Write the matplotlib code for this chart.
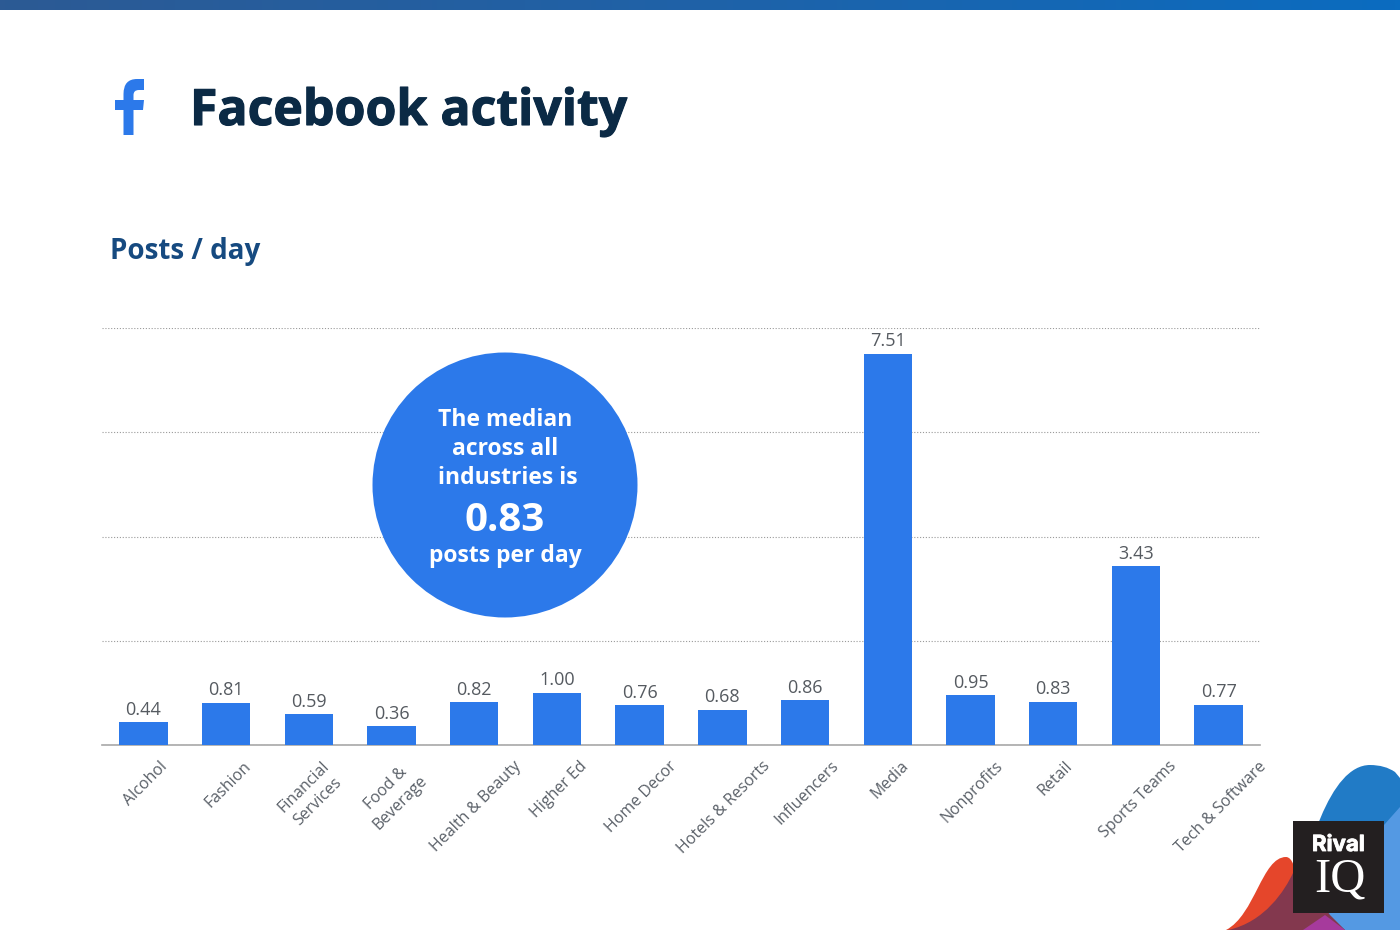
import numpy as np
import matplotlib
matplotlib.use('Agg')
import matplotlib.pyplot as plt
import matplotlib.patheffects as pe
from matplotlib.colors import LinearSegmentedColormap
from matplotlib.patches import Circle, PathPatch, Rectangle
from matplotlib.path import Path
from matplotlib.transforms import ScaledTranslation

plt.rcParams['font.family'] = ['Open Sans', 'DejaVu Sans']

categories = ['Alcohol', 'Fashion', 'Financial\nServices', 'Food &\nBeverage',
              'Health & Beauty', 'Higher Ed', 'Home Decor', 'Hotels & Resorts',
              'Influencers', 'Media', 'Nonprofits', 'Retail', 'Sports Teams',
              'Tech & Software']
posts_per_day = [0.44, 0.81, 0.59, 0.36, 0.82, 1.00, 0.76, 0.68, 0.86, 7.51,
                 0.95, 0.83, 3.43, 0.77]
y_ticks = [0, 2, 4, 6, 8]

BLUE = '#2c79ea'
W, H = 1400, 930
M, L, C3, C4, Z = Path.MOVETO, Path.LINETO, Path.CURVE3, Path.CURVE4, Path.CLOSEPOLY

fig = plt.figure(figsize=(14, 9.3), dpi=100, facecolor='white')

# page layer, in pixels from the top left
bg = fig.add_axes([0, 0, 1, 1], zorder=0)
bg.axis('off')

# top band
band = LinearSegmentedColormap.from_list('band', ['#2c5a94', '#1f62a8', '#0b6cc0'])
bg.imshow(np.linspace(0, 1, 256).reshape(1, -1), cmap=band, aspect='auto',
          extent=(0, W, 10.5, 0), zorder=1)
bg.set_xlim(0, W)
bg.set_ylim(H, 0)

# facebook f
f_verts = [(123.5, 135), (123.5, 110), (115, 110), (115, 100), (123.5, 100), (123.5, 94),
           (123.5, 79), (137, 79), (144, 79), (144, 90), (139, 90),
           (133.5, 90), (133.5, 95), (133.5, 100), (144, 100), (143, 110),
           (133.5, 110), (133.5, 135), (123.5, 135)]
f_codes = [M, L, L, L, L, L, C3, C3, L, L, L, C3, C3, L, L, L, L, L, Z]
bg.add_patch(PathPatch(Path(f_verts, f_codes), fc=BLUE, ec='none', zorder=2))

bg.text(190, 112, 'Facebook activity', fontsize=36, fontweight='bold',
        color='#0b2a45', ha='left', va='center',
        path_effects=[pe.withStroke(linewidth=0.8, foreground='#0b2a45')])
bg.text(109.5, 251, 'Posts / day', fontsize=20, fontweight='bold',
        color='#164a80', ha='left', va='center')

# corner shapes behind the logo
blue_blob = Path([(1290, 930), (1305, 850), (1330, 765), (1370, 765), (1385, 765),
                  (1395, 772), (1400, 778), (1400, 930), (1290, 930)],
                 [M, C4, C4, C4, C3, C3, L, L, Z])
bg.add_patch(PathPatch(blue_blob, fc='#217bc6', ec='none', zorder=2))
light_blob = Path([(1345, 930), (1325, 913), (1384, 825), (1400, 807), (1400, 930), (1345, 930)],
                  [M, L, L, L, L, Z])
bg.add_patch(PathPatch(light_blob, fc='#5499e3', ec='none', zorder=3))
red_blob = Path([(1226, 930), (1255, 915), (1262, 857), (1286, 857), (1298, 857),
                 (1300, 900), (1300, 930), (1226, 930)],
                [M, C4, C4, C4, C4, C4, C4, Z])
bg.add_patch(PathPatch(red_blob, fc='#e5462b', ec='none', zorder=4))
plum_blob = Path([(1228, 930), (1265, 922), (1285, 890), (1293, 873), (1310, 885),
                  (1330, 915), (1345, 930), (1228, 930)],
                 [M, C4, C4, C4, L, L, L, Z])
bg.add_patch(PathPatch(plum_blob, fc='#83384e', ec='none', zorder=5))
purple_blob = Path([(1303, 930), (1325, 915), (1345, 930), (1303, 930)],
                   [M, L, L, Z])
bg.add_patch(PathPatch(purple_blob, fc='#a63a9c', ec='none', zorder=6))

# logo box
bg.add_patch(Rectangle((1293, 821), 91, 92, fc='#231f20', ec='none', zorder=7))
bg.text(1338.5, 845, 'Rival', fontsize=16, fontweight='bold', color='white',
        ha='center', va='center', family='Inter', zorder=8,
        path_effects=[pe.withStroke(linewidth=0.6, foreground='white')])
bg.text(1339.5, 879, 'IQ', fontsize=35, color='white', ha='center', va='center',
        family='Liberation Serif', zorder=8)

# chart
ax = fig.add_axes([102 / W, 1 - 745 / H, (1260 - 102) / W, (745 - 328) / H], zorder=1)
ax.patch.set_alpha(0)
x = np.arange(len(categories))
bars = ax.bar(x, posts_per_day, width=0.587, color=BLUE, zorder=3)
ax.bar_label(bars, labels=['%.2f' % v for v in posts_per_day], padding=2.5,
             fontsize=13, color='#555a60')

ax.set_xlim(-0.5, len(categories) - 0.5)
ax.set_ylim(0, 8)
ax.set_yticks(y_ticks)
ax.tick_params(axis='y', left=False, labelleft=False)
ax.tick_params(axis='x', bottom=False, pad=6)
ax.grid(axis='y', linestyle=(0, (1, 1.6)), linewidth=0.8, color='#9a9a9a', zorder=0)
ax.set_axisbelow(True)
for side in ['top', 'left', 'right']:
    ax.spines[side].set_visible(False)
ax.spines['bottom'].set_color('#a8a8a8')
ax.spines['bottom'].set_linewidth(1.2)
ax.set_xticks(x)
ax.set_xticklabels(categories, rotation=45, ha='center', va='top',
                   fontsize=11.5, color='#5a6068', linespacing=1.4)
nudge = ScaledTranslation(2 / 100, 0, fig.dpi_scale_trans)
for lab in ax.get_xticklabels():
    lab.set_transform(lab.get_transform() + nudge)

# median callout
top = fig.add_axes([0, 0, 1, 1], zorder=2)
top.set_xlim(0, W)
top.set_ylim(H, 0)
top.axis('off')
top.add_patch(Circle((505, 485), 132.5, fc=BLUE, ec='none'))
for text, ypos, xpos, size in [('The median', 420, 505, 16.5),
                               ('across all', 449, 505, 16.5),
                               ('industries is', 478, 508, 16.5),
                               ('0.83', 520, 505, 29),
                               ('posts per day', 556, 505, 16.5)]:
    top.text(xpos, ypos, text, fontsize=size, fontweight='bold', color='white',
             ha='center', va='center')

fig.savefig('out.png', dpi=100)
